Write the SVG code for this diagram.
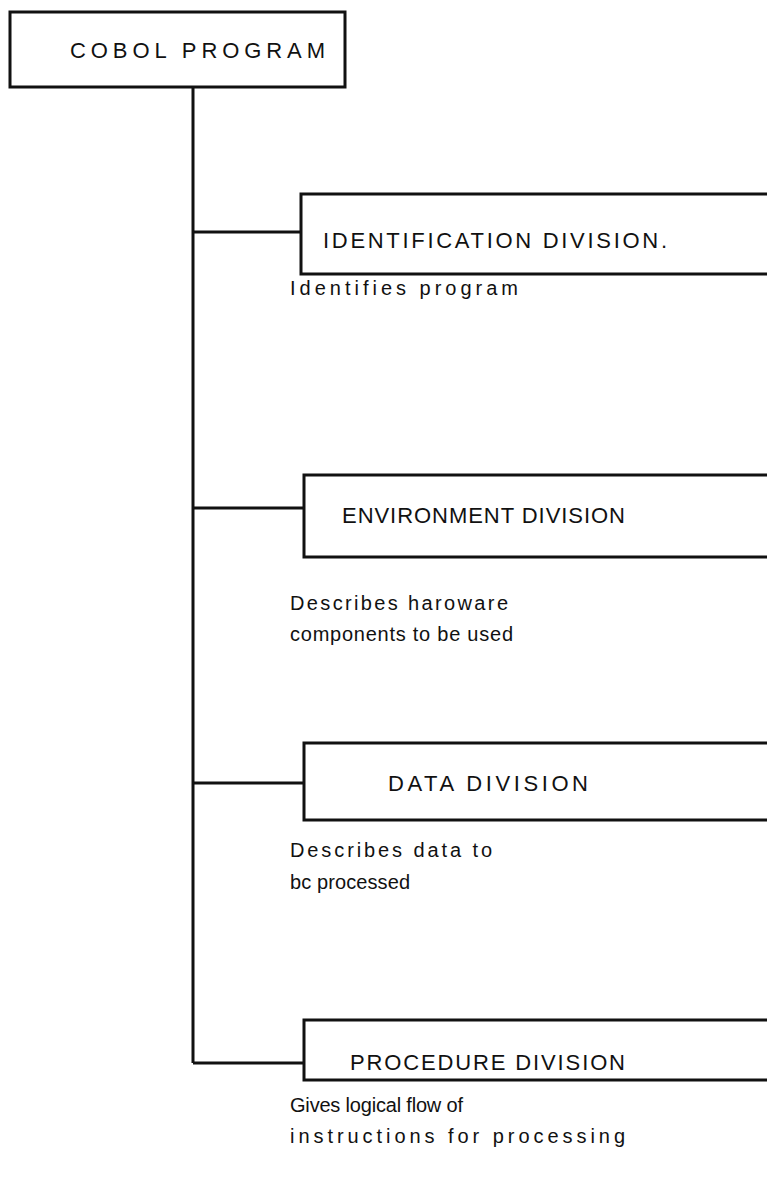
<svg xmlns="http://www.w3.org/2000/svg" width="767" height="1192" viewBox="0 0 767 1192">
<style>
.box{fill:none;stroke:#111;stroke-width:3}
.conn{fill:none;stroke:#111;stroke-width:3}
.hd{font-family:"Liberation Sans",Arial,sans-serif;font-size:22px;fill:#111}
.ds{font-family:"Liberation Sans",Arial,sans-serif;font-size:20px;fill:#111}
</style>
<rect width="767" height="1192" fill="#fff"/>
<g id="connectors">
<path class="conn" d="M193,87 V1063"/>
<path class="conn" d="M193,232 H301"/>
<path class="conn" d="M193,508 H304"/>
<path class="conn" d="M193,783 H304"/>
<path class="conn" d="M193,1063 H304"/>
</g>
<g id="cobol-program">
<rect class="box" x="10" y="12" width="335" height="75"/>
<text class="hd" x="70" y="58" font-size="25" textLength="255" lengthAdjust="spacing">COBOL PROGRAM</text>
</g>
<g id="identification-division">
<rect class="box" x="301" y="194" width="480" height="80"/>
<text class="hd" x="323" y="248" textLength="344" lengthAdjust="spacing">IDENTIFICATION DIVISION.</text>
<text class="ds" x="290" y="295" textLength="228" lengthAdjust="spacing">Identifies program</text>
</g>
<g id="environment-division">
<rect class="box" x="304" y="475" width="480" height="82"/>
<text class="hd" x="342" y="523" textLength="283" lengthAdjust="spacing">ENVIRONMENT DIVISION</text>
<text class="ds" x="290" y="610" textLength="218" lengthAdjust="spacing">Describes haroware</text>
<text class="ds" x="290" y="641" textLength="223" lengthAdjust="spacing">components to be used</text>
</g>
<g id="data-division">
<rect class="box" x="304" y="743" width="480" height="77"/>
<text class="hd" x="388" y="791" textLength="200" lengthAdjust="spacing">DATA DIVISION</text>
<text class="ds" x="290" y="857" textLength="202" lengthAdjust="spacing">Describes data to</text>
<text class="ds" x="290" y="889" textLength="120" lengthAdjust="spacing">bc processed</text>
</g>
<g id="procedure-division">
<rect class="box" x="304" y="1020" width="480" height="60"/>
<text class="hd" x="350" y="1070" textLength="275" lengthAdjust="spacing">PROCEDURE DIVISION</text>
<text class="ds" x="290" y="1112" textLength="173" lengthAdjust="spacing">Gives logical flow of</text>
<text class="ds" x="290" y="1143" textLength="335" lengthAdjust="spacing">instructions for processing</text>
</g>
</svg>
